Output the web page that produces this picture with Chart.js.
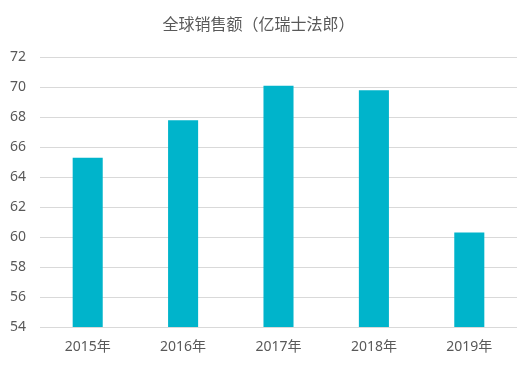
<!DOCTYPE html>
<html>
<head>
<meta charset="utf-8">
<script src="https://cdn.jsdelivr.net/npm/chart.js@4"></script>
<style>
  body { margin: 0; background: #fff; }
  #wrap { width: 532px; height: 370px; }
</style>
</head>
<body>
<div id="wrap"><canvas id="myChart" width="532" height="370"></canvas></div>
<script>
  const years = ['2015年', '2016年', '2017年', '2018年', '2019年']
  const sales = [65.3, 67.8, 70.1, 69.8, 60.3]
  const chart_title = '全球销售额（亿瑞士法郎）'

  const font_family = "'Noto Sans', 'Noto Sans CJK SC', sans-serif"
  const text_color = '#595959'

  const config = {
    type: 'bar',
    data: {
      labels: years,
      datasets: [{
        label: '销售额',
        data: sales,
        backgroundColor: '#00B4CB',
        barPercentage: 0.315,
        categoryPercentage: 1.0,
      }]
    },
    options: {
      responsive: false,
      animation: false,
      layout: { padding: { left: 0, right: 15, top: 16, bottom: 0 } },
      plugins: {
        legend: { display: false },
        tooltip: { enabled: false },
        title: {
          display: true,
          text: chart_title,
          color: text_color,
          font: { family: font_family, size: 16, weight: 'normal' },
          padding: { top: 0, bottom: 22 }
        }
      },
      scales: {
        x: {
          grid: { display: false, drawTicks: false },
          border: { display: false },
          ticks: { color: text_color, font: { family: font_family, size: 14 }, padding: 12 },
          afterFit: function(scale) { scale.height = 43 }
        },
        y: {
          min: 54,
          max: 72,
          grid: { color: '#d9d9d9', drawTicks: false },
          border: { display: false },
          ticks: { stepSize: 2, color: text_color, font: { family: font_family, size: 14 }, padding: 14 },
          afterFit: function(scale) { scale.width = 40 }
        }
      }
    }
  }

  const myChart = new Chart(document.getElementById('myChart'), config)
</script>
</body>
</html>
